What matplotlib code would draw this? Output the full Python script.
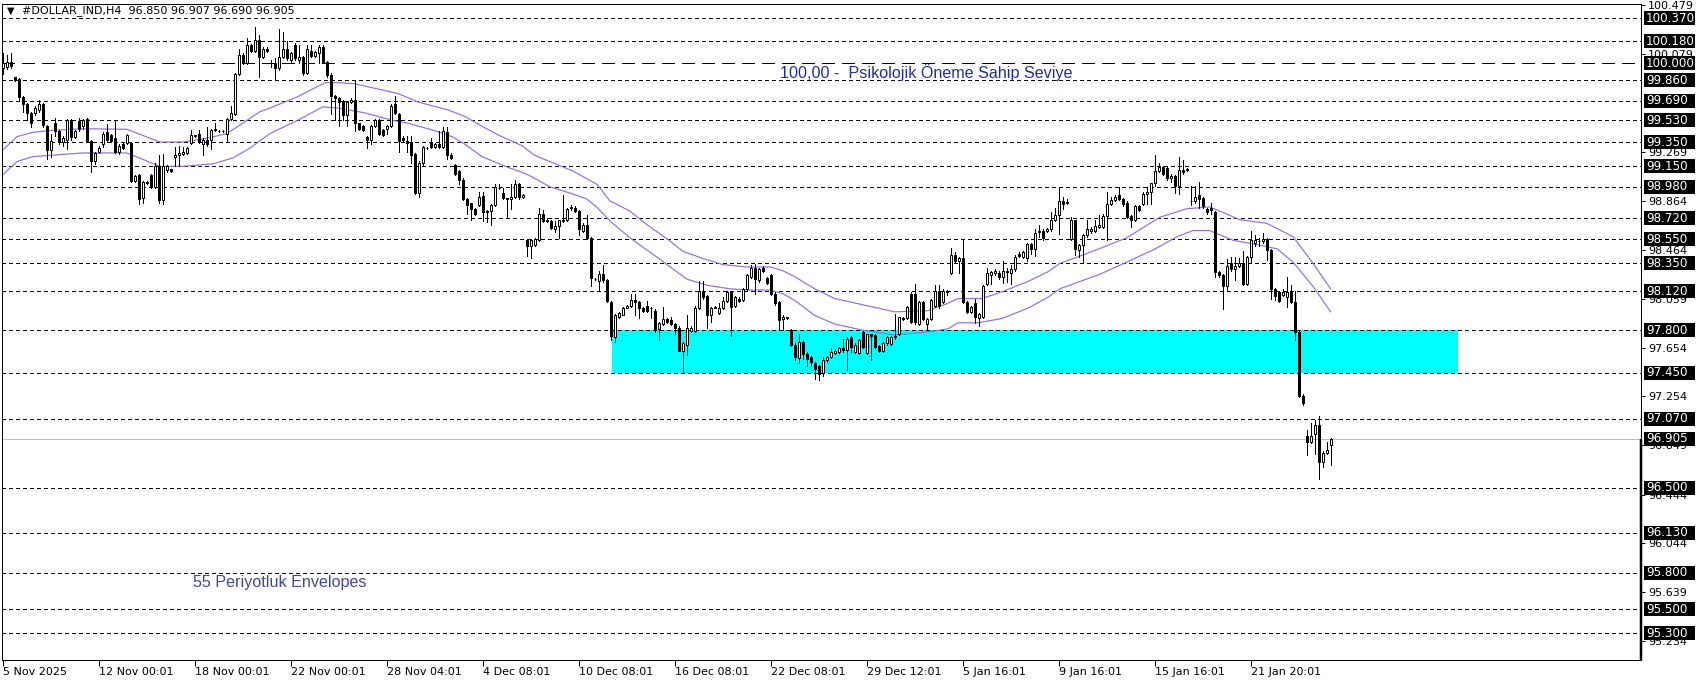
import matplotlib
matplotlib.use('Agg')
import matplotlib.pyplot as plt
import matplotlib.transforms as mtransforms
from matplotlib.patches import Rectangle
import numpy as np

W, H, DPI = 1699, 684, 100

# --- H4 bars (OHLC) ---
opens = [
    99.96, 99.97, 100.01, 99.885, 99.87, 99.72, 99.66, 99.59, 99.59, 99.61,
    99.665, 99.48, 99.285, 99.505, 99.44, 99.35, 99.37, 99.53, 99.395, 99.52,
    99.48, 99.54, 99.36, 99.19, 99.27, 99.33, 99.43, 99.41, 99.38, 99.27,
    99.33, 99.34, 99.34, 99.03, 99.08, 98.89, 99.02, 99.08, 98.98, 99.15,
    98.87, 99.12, 99.125, 99.23, 99.24, 99.25, 99.26, 99.34, 99.41, 99.42,
    99.33, 99.37, 99.37, 99.46, 99.44, 99.44, 99.42, 99.54, 99.58, 99.91,
    100.07, 100.00, 100.15, 100.10, 100.19, 100.05, 100.12, 100.005, 100.00, 99.96,
    100.05, 100.12, 100.03, 100.15, 100.03, 100.05, 99.92, 100.10, 100.06, 100.08,
    100.13, 100.01, 99.90, 99.73, 99.71, 99.69, 99.57, 99.68, 99.70, 99.505,
    99.48, 99.39, 99.37, 99.48, 99.53, 99.45, 99.455, 99.48, 99.66, 99.58,
    99.38, 99.355, 99.35, 99.25, 98.93, 99.175, 99.30, 99.35, 99.31, 99.33,
    99.31, 99.43, 99.24, 99.16, 99.11, 99.04, 98.88, 98.845, 98.80, 98.83,
    98.905, 98.785, 98.78, 98.83, 98.975, 98.93, 98.89, 98.88, 98.90, 99.00,
    98.90, 98.54, 98.49, 98.50, 98.54, 98.76, 98.71, 98.70, 98.63, 98.66,
    98.71, 98.705, 98.815, 98.81, 98.78, 98.62, 98.67, 98.56, 98.22, 98.205,
    98.26, 98.21, 98.035, 97.74, 97.91, 97.925, 97.985, 98.00, 98.05, 98.03,
    97.985, 98.00, 97.98, 97.96, 97.81, 97.85, 97.895, 97.88, 97.85, 97.82,
    97.63, 97.68, 97.79, 97.79, 97.98, 98.12, 98.08, 97.92, 97.985, 97.94,
    97.98, 98.04, 98.11, 98.00, 98.06, 98.05, 98.14, 98.24, 98.315, 98.21,
    98.315, 98.23, 98.25, 98.10, 98.03, 97.89, 97.905, 97.80, 97.68, 97.57,
    97.70, 97.60, 97.58, 97.53, 97.50, 97.45, 97.55, 97.58, 97.61, 97.62,
    97.655, 97.635, 97.745, 97.62, 97.61, 97.78, 97.61, 97.765, 97.76, 97.67,
    97.63, 97.69, 97.685, 97.74, 97.77, 97.90, 97.90, 98.10, 98.10, 97.85,
    98.03, 97.85, 97.89, 98.00, 98.12, 98.03, 98.11, 98.27, 98.42, 98.37,
    98.39, 98.03, 97.95, 98.02, 97.90, 97.91, 98.18, 98.25, 98.27, 98.27,
    98.24, 98.29, 98.27, 98.30, 98.43, 98.40, 98.39, 98.51, 98.47, 98.61,
    98.62, 98.62, 98.63, 98.71, 98.75, 98.86, 98.85, 98.55, 98.705, 98.46,
    98.50, 98.58, 98.62, 98.62, 98.65, 98.65, 98.74, 98.84, 98.87, 98.91,
    98.88, 98.85, 98.74, 98.71, 98.82, 98.84, 98.925, 98.935, 99.01, 99.11,
    99.145, 99.14, 99.05, 99.07, 98.985, 99.12, 99.12, 98.86, 98.86, 98.91,
    98.89, 98.80, 98.81, 98.77, 98.28, 98.25, 98.16, 98.35, 98.30, 98.33,
    98.35, 98.18, 98.40, 98.52, 98.53, 98.53, 98.55, 98.46, 98.14, 98.11,
    98.09, 98.07, 98.11, 98.03, 97.785, 97.26, 96.93, 96.88, 96.94, 97.015,
    96.71, 96.79, 96.85,
]
highs = [
    100.08, 100.07, 100.08, 99.89, 99.88, 99.73, 99.67, 99.60, 99.65, 99.70,
    99.67, 99.49, 99.42, 99.55, 99.45, 99.40, 99.54, 99.54, 99.45, 99.55,
    99.54, 99.55, 99.37, 99.27, 99.32, 99.43, 99.50, 99.42, 99.53, 99.33,
    99.34, 99.42, 99.35, 99.08, 99.09, 99.03, 99.03, 99.09, 99.18, 99.24,
    99.25, 99.16, 99.13, 99.31, 99.32, 99.31, 99.31, 99.45, 99.41, 99.45,
    99.38, 99.47, 99.46, 99.51, 99.45, 99.45, 99.55, 99.65, 99.92, 100.115,
    100.08, 100.21, 100.16, 100.30, 100.23, 100.13, 100.13, 100.03, 100.04, 100.28,
    100.26, 100.18, 100.09, 100.165, 100.15, 100.06, 100.15, 100.15, 100.10, 100.15,
    100.15, 100.02, 99.92, 99.74, 99.72, 99.70, 99.69, 99.71, 99.85, 99.51,
    99.49, 99.40, 99.49, 99.54, 99.54, 99.46, 99.49, 99.66, 99.73, 99.59,
    99.40, 99.40, 99.40, 99.26, 99.19, 99.32, 99.31, 99.38, 99.34, 99.44,
    99.47, 99.47, 99.26, 99.17, 99.12, 99.05, 98.89, 98.85, 98.81, 98.94,
    98.94, 98.79, 98.84, 99.00, 99.00, 98.97, 98.89, 99.00, 99.04, 99.01,
    98.92, 98.55, 98.55, 98.56, 98.81, 98.79, 98.72, 98.71, 98.70, 98.71,
    98.91, 98.81, 98.83, 98.82, 98.79, 98.68, 98.75, 98.57, 98.23, 98.29,
    98.34, 98.22, 98.04, 97.93, 97.95, 97.99, 98.01, 98.10, 98.10, 98.04,
    97.99, 98.04, 97.99, 97.97, 97.87, 97.99, 97.90, 97.91, 97.86, 97.83,
    97.70, 97.92, 97.83, 98.00, 98.205, 98.205, 98.09, 97.99, 98.00, 98.02,
    98.07, 98.12, 98.12, 98.08, 98.07, 98.15, 98.26, 98.34, 98.345, 98.31,
    98.33, 98.24, 98.26, 98.11, 98.04, 97.92, 97.91, 97.81, 97.69, 97.77,
    97.72, 97.62, 97.59, 97.54, 97.51, 97.58, 97.59, 97.65, 97.64, 97.66,
    97.73, 97.74, 97.75, 97.69, 97.73, 97.79, 97.77, 97.77, 97.77, 97.68,
    97.70, 97.75, 97.75, 97.93, 97.91, 97.91, 98.00, 98.11, 98.18, 98.04,
    98.04, 97.90, 98.06, 98.17, 98.17, 98.14, 98.13, 98.48, 98.44, 98.40,
    98.55, 98.04, 98.00, 98.06, 97.94, 98.17, 98.31, 98.29, 98.30, 98.29,
    98.37, 98.31, 98.34, 98.42, 98.44, 98.45, 98.52, 98.52, 98.63, 98.67,
    98.63, 98.64, 98.77, 98.81, 98.97, 98.90, 98.88, 98.73, 98.71, 98.51,
    98.59, 98.71, 98.65, 98.71, 98.75, 98.76, 98.94, 98.90, 98.91, 98.98,
    98.89, 98.86, 98.75, 98.83, 98.83, 98.94, 98.98, 99.015, 99.24, 99.18,
    99.15, 99.15, 99.09, 99.08, 99.23, 99.20, 99.135, 98.985, 98.985, 99.02,
    98.90, 98.81, 98.845, 98.78, 98.29, 98.26, 98.385, 98.40, 98.40, 98.39,
    98.45, 98.41, 98.62, 98.58, 98.56, 98.60, 98.56, 98.47, 98.15, 98.12,
    98.14, 98.24, 98.17, 98.12, 97.79, 97.27, 96.975, 97.035, 97.06, 97.09,
    96.80, 96.88, 96.907,
]
lows = [
    99.91, 99.95, 99.96, 99.85, 99.70, 99.60, 99.53, 99.47, 99.57, 99.60,
    99.47, 99.21, 99.23, 99.40, 99.33, 99.32, 99.29, 99.37, 99.38, 99.44,
    99.46, 99.35, 99.10, 99.17, 99.26, 99.31, 99.36, 99.35, 99.26, 99.25,
    99.29, 99.33, 99.02, 99.02, 98.84, 98.85, 99.00, 98.97, 98.97, 98.85,
    98.84, 99.10, 99.10, 99.15, 99.15, 99.24, 99.25, 99.33, 99.39, 99.34,
    99.24, 99.32, 99.29, 99.44, 99.43, 99.43, 99.35, 99.53, 99.57, 99.90,
    99.99, 99.99, 100.09, 100.09, 99.89, 100.04, 100.09, 99.97, 99.86, 99.945,
    100.04, 100.03, 100.01, 100.03, 100.00, 99.90, 99.91, 100.05, 100.05, 100.005,
    100.00, 99.89, 99.58, 99.53, 99.48, 99.53, 99.48, 99.67, 99.44, 99.45,
    99.44, 99.30, 99.33, 99.47, 99.41, 99.40, 99.42, 99.47, 99.58, 99.27,
    99.35, 99.27, 99.175, 98.92, 98.90, 99.15, 99.29, 99.30, 99.30, 99.30,
    99.30, 99.21, 99.21, 99.08, 99.00, 98.87, 98.76, 98.71, 98.75, 98.82,
    98.70, 98.69, 98.67, 98.82, 98.96, 98.88, 98.72, 98.80, 98.89, 98.88,
    98.89, 98.41, 98.39, 98.49, 98.53, 98.69, 98.69, 98.63, 98.61, 98.56,
    98.69, 98.70, 98.79, 98.77, 98.58, 98.61, 98.55, 98.16, 98.21, 98.12,
    98.20, 98.03, 97.72, 97.70, 97.90, 97.92, 97.98, 97.99, 97.92, 97.90,
    97.95, 97.95, 97.90, 97.78, 97.72, 97.84, 97.86, 97.84, 97.77, 97.63,
    97.45, 97.595, 97.78, 97.78, 97.97, 98.06, 97.82, 97.87, 97.98, 97.93,
    97.97, 98.03, 97.75, 97.99, 98.03, 98.04, 98.13, 98.23, 98.095, 98.20,
    98.28, 98.18, 98.09, 98.01, 97.81, 97.80, 97.89, 97.67, 97.55, 97.53,
    97.56, 97.50, 97.50, 97.40, 97.39, 97.42, 97.54, 97.57, 97.60, 97.61,
    97.62, 97.47, 97.62, 97.61, 97.60, 97.65, 97.60, 97.55, 97.65, 97.62,
    97.62, 97.68, 97.68, 97.73, 97.76, 97.88, 97.89, 97.86, 97.85, 97.84,
    97.88, 97.81, 97.88, 97.99, 97.98, 98.02, 98.09, 98.26, 98.36, 98.27,
    98.02, 97.94, 97.94, 97.86, 97.83, 97.90, 98.17, 98.18, 98.25, 98.22,
    98.19, 98.20, 98.18, 98.29, 98.40, 98.39, 98.37, 98.43, 98.41, 98.57,
    98.54, 98.61, 98.62, 98.70, 98.59, 98.80, 98.84, 98.54, 98.42, 98.40,
    98.36, 98.57, 98.60, 98.61, 98.64, 98.64, 98.54, 98.83, 98.86, 98.87,
    98.82, 98.72, 98.65, 98.70, 98.78, 98.83, 98.84, 98.84, 98.985, 99.10,
    99.08, 99.04, 99.02, 98.93, 98.92, 99.09, 99.11, 98.83, 98.85, 98.81,
    98.81, 98.76, 98.755, 98.24, 98.24, 97.97, 98.13, 98.29, 98.21, 98.32,
    98.17, 98.17, 98.36, 98.49, 98.49, 98.52, 98.38, 98.06, 98.05, 98.03,
    98.08, 97.99, 98.02, 97.72, 97.25, 97.18, 96.77, 96.87, 96.78, 96.57,
    96.67, 96.78, 96.69,
]
closes = [
    100.00, 100.01, 99.98, 99.86, 99.725, 99.66, 99.59, 99.505, 99.63, 99.665,
    99.49, 99.285, 99.36, 99.44, 99.35, 99.38, 99.53, 99.39, 99.44, 99.46,
    99.53, 99.36, 99.19, 99.26, 99.30, 99.42, 99.37, 99.36, 99.27, 99.32,
    99.30, 99.41, 99.03, 99.07, 98.88, 99.02, 99.01, 98.98, 99.15, 98.87,
    99.15, 99.15, 99.11, 99.24, 99.26, 99.27, 99.30, 99.41, 99.40, 99.35,
    99.37, 99.33, 99.45, 99.45, 99.445, 99.44, 99.54, 99.59, 99.91, 100.07,
    100.00, 100.15, 100.10, 100.19, 100.055, 100.12, 100.10, 100.00, 99.96, 100.05,
    100.12, 100.04, 100.08, 100.04, 100.05, 99.92, 100.115, 100.06, 100.09, 100.13,
    100.01, 99.90, 99.73, 99.71, 99.68, 99.57, 99.68, 99.70, 99.51, 99.46,
    99.45, 99.37, 99.48, 99.53, 99.42, 99.41, 99.48, 99.65, 99.59, 99.36,
    99.37, 99.345, 99.24, 98.93, 99.18, 99.31, 99.30, 99.31, 99.33, 99.31,
    99.44, 99.24, 99.22, 99.09, 99.04, 98.88, 98.83, 98.80, 98.76, 98.90,
    98.77, 98.77, 98.83, 98.98, 98.97, 98.89, 98.88, 98.90, 99.00, 98.90,
    98.91, 98.49, 98.54, 98.55, 98.76, 98.70, 98.70, 98.64, 98.66, 98.705,
    98.70, 98.80, 98.81, 98.78, 98.63, 98.67, 98.56, 98.23, 98.22, 98.26,
    98.21, 98.04, 97.75, 97.925, 97.94, 97.985, 98.00, 98.05, 98.03, 97.985,
    97.96, 97.96, 97.985, 97.81, 97.86, 97.895, 97.87, 97.85, 97.815, 97.63,
    97.69, 97.815, 97.82, 97.985, 98.12, 98.07, 97.92, 97.985, 97.99, 97.985,
    98.04, 98.11, 97.99, 98.07, 98.04, 98.14, 98.25, 98.315, 98.22, 98.30,
    98.29, 98.19, 98.095, 98.02, 97.88, 97.91, 97.90, 97.68, 97.58, 97.70,
    97.60, 97.56, 97.54, 97.48, 97.44, 97.55, 97.58, 97.62, 97.63, 97.65,
    97.635, 97.73, 97.66, 97.675, 97.715, 97.66, 97.765, 97.75, 97.66, 97.63,
    97.69, 97.74, 97.74, 97.755, 97.905, 97.89, 97.99, 97.87, 97.87, 98.03,
    97.89, 97.89, 98.05, 98.12, 98.00, 98.12, 98.12, 98.42, 98.37, 98.39,
    98.03, 97.95, 97.99, 97.91, 97.935, 98.16, 98.27, 98.28, 98.29, 98.24,
    98.29, 98.28, 98.30, 98.40, 98.41, 98.44, 98.51, 98.47, 98.60, 98.62,
    98.56, 98.63, 98.71, 98.75, 98.86, 98.84, 98.855, 98.705, 98.47, 98.50,
    98.58, 98.63, 98.63, 98.66, 98.67, 98.74, 98.84, 98.87, 98.90, 98.88,
    98.84, 98.73, 98.71, 98.82, 98.79, 98.925, 98.94, 99.01, 99.11, 99.145,
    99.09, 99.05, 99.07, 98.985, 99.12, 99.10, 99.12, 98.86, 98.90, 98.88,
    98.82, 98.77, 98.79, 98.28, 98.25, 98.16, 98.33, 98.30, 98.33, 98.35,
    98.18, 98.40, 98.54, 98.54, 98.535, 98.55, 98.46, 98.14, 98.08, 98.04,
    98.11, 98.11, 98.03, 97.785, 97.26, 97.20, 96.88, 96.93, 97.02, 96.71,
    96.79, 96.815, 96.905,
]

# --- 55-period envelopes (bar position, price) ---
env_upper_bar = [0, 3.6, 7.6, 11.8, 20, 31, 39.3, 45, 51, 56, 59.3, 64.3, 66.8, 73.8,
                 80.6, 83.8, 88, 98.8, 103.8, 111.3, 115.6, 119.8, 123.8, 129.8, 133,
                 142.6, 148.6, 151.8, 156.8, 161, 166.8, 170, 175, 180, 186, 191.8, 195,
                 198, 203, 208, 214.8, 223, 231.3, 236.3, 238.8, 244.8, 249.8, 256.3,
                 261.3, 264.3, 271, 281, 289.3, 296, 301.8, 309.3, 316, 322.6, 327.6, 332]
env_upper = [99.285, 99.395, 99.43, 99.445, 99.46, 99.455, 99.35, 99.35, 99.38, 99.42,
             99.49, 99.60, 99.63, 99.725, 99.84, 99.84, 99.83, 99.75, 99.68, 99.615,
             99.56, 99.48, 99.41, 99.32, 99.24, 99.11, 99.00, 98.865, 98.78, 98.67,
             98.535, 98.45, 98.39, 98.34, 98.32, 98.32, 98.29, 98.24, 98.14, 98.06,
             98.01, 97.95, 97.96, 98.02, 98.06, 98.06, 98.115, 98.20, 98.28, 98.35,
             98.43, 98.56, 98.73, 98.80, 98.815, 98.71, 98.68, 98.57, 98.35, 98.14]
env_lower_bar = [0, 3.6, 7.6, 11.8, 20, 31, 39.3, 45, 52.6, 57.6, 61.8, 66.8, 73.8, 80,
                 83.8, 90.6, 97.3, 101.3, 107.3, 112.3, 115.6, 119.8, 125.6, 130.6, 132.5,
                 136.8, 141.8, 146, 148.6, 151.8, 156.8, 163.6, 171, 176, 181.8, 186.8,
                 191.8, 195, 198, 203, 208, 214.8, 223, 231.3, 236.3, 238.8, 243.8, 249.8,
                 256.3, 261.3, 264.3, 269.3, 274.3, 281, 287.6, 293.6, 297.6, 301.8, 307.6,
                 314.3, 318.6, 322.6, 327.6, 332]
env_lower = [99.08, 99.19, 99.23, 99.24, 99.26, 99.26, 99.15, 99.15, 99.17, 99.22,
             99.30, 99.42, 99.53, 99.64, 99.63, 99.59, 99.53, 99.505, 99.45, 99.395,
             99.33, 99.23, 99.15, 99.09, 99.06, 98.98, 98.93, 98.88, 98.81, 98.70,
             98.56, 98.40, 98.22, 98.17, 98.14, 98.13, 98.13, 98.10, 98.045, 97.92,
             97.85, 97.80, 97.76, 97.785, 97.81, 97.86, 97.86, 97.895, 97.98, 98.07,
             98.14, 98.20, 98.26, 98.36, 98.46, 98.57, 98.62, 98.62, 98.54, 98.50,
             98.47, 98.36, 98.16, 97.95]

# --- levels and labels ---
levels = [100.37, 100.18, 99.86, 99.69, 99.53, 99.35, 99.15, 98.98, 98.72, 98.55,
          98.35, 98.12, 97.80, 97.45, 97.07, 96.50, 96.13, 95.80, 95.50, 95.30]
psych_level = 100.00
last_price = 96.905
scale_ticks = [100.479, 100.079, 99.269, 98.864, 98.464, 98.059, 97.654, 97.254,
               96.849, 96.444, 96.044, 95.639, 95.234]
zone_low, zone_high = 97.45, 97.80
zone_start, zone_end = 152.3, 363.8

tick_bars = [0, 24, 48, 72, 96, 120, 144, 168, 192, 216, 240, 264, 288, 312]
tick_labels = ["5 Nov 2025", "12 Nov 00:01", "18 Nov 00:01", "22 Nov 00:01",
               "28 Nov 04:01", "4 Dec 08:01", "10 Dec 08:01", "16 Dec 08:01",
               "22 Dec 08:01", "29 Dec 12:01", "5 Jan 16:01", "9 Jan 16:01",
               "15 Jan 16:01", "21 Jan 20:01"]

header = "#DOLLAR_IND,H4  96.850 96.907 96.690 96.905"
note_psych = "100,00 -  Psikolojik Öneme Sahip Seviye"
note_env = "55 Periyotluk Envelopes"

PX = 0.72  # one pixel in points at 100 dpi

fig = plt.figure(figsize=(W / DPI, H / DPI), dpi=DPI)
ax = fig.add_axes([2 / W, 1 - 660 / H, 1639 / W, 656.5 / H])
ax.set_xlim(-0.2, 409.6)
ax.set_ylim(95.080, 100.492)

# support zone
ax.add_patch(Rectangle((zone_start, zone_low), zone_end - zone_start, zone_high - zone_low,
                       facecolor='#00FFFF', edgecolor='none', zorder=1))

# horizontal levels
for lv in levels:
    ax.axhline(lv, color='black', lw=PX, dashes=(3, 3), zorder=2, antialiased=False)
ax.axhline(psych_level, color='black', lw=PX, dashes=(13, 7), zorder=2, antialiased=False)
ax.axhline(last_price, color='#C0C0C0', lw=PX, zorder=2, antialiased=False)

# envelopes
ax.plot(env_upper_bar, env_upper, color='#9370DB', lw=PX * 1.2, zorder=2.5)
ax.plot(env_lower_bar, env_lower, color='#9370DB', lw=PX * 1.2, zorder=2.5)

# candles
o = np.array(opens); hi = np.array(highs); lo = np.array(lows); c = np.array(closes)
x = np.arange(len(c))
up = c >= o
ax.vlines(x, lo, hi, color='black', lw=PX, zorder=3, antialiased=False)
body_lo = np.minimum(o, c)
body_h = np.maximum(np.abs(c - o), 0.004)
ax.bar(x[up], body_h[up], bottom=body_lo[up], width=0.5, color='white',
       edgecolor='black', linewidth=PX, zorder=4)
ax.bar(x[~up], body_h[~up], bottom=body_lo[~up], width=0.5, color='black',
       edgecolor='black', linewidth=PX, zorder=4)

# notes on the chart
ax.text(194.3, 99.92, note_psych, family='Liberation Sans', fontsize=11.6,
        color='#1f2f9a', va='center', ha='left', zorder=5)
ax.text(47.6, 95.72, note_env, family='Liberation Sans', fontsize=11.6,
        color='#45459c', va='center', ha='left', zorder=5)

# header
fig.text(7 / W, 1 - 11 / H, "▼", fontsize=7, va='center', ha='left')
fig.text(22 / W, 1 - 11 / H, header, fontsize=8, va='center', ha='left')

# axes styling
for sp in ax.spines.values():
    sp.set_linewidth(PX)
    sp.set_color('black')
ax.yaxis.tick_right()
ax.set_yticks(scale_ticks)
ax.set_yticklabels([f"{v:.3f}" for v in scale_ticks])
ax.tick_params(axis='y', length=3, width=PX, pad=2, labelsize=8)
ax.set_xticks(tick_bars)
ax.set_xticklabels(tick_labels)
for lab in ax.get_xticklabels():
    lab.set_horizontalalignment('left')
ax.tick_params(axis='x', length=4, width=PX, pad=1, labelsize=8)

# thick right edge below current price
trans = mtransforms.blended_transform_factory(ax.transAxes, ax.transData)
ax.plot([1.0, 1.0], [95.080, last_price], transform=trans, color='black',
        lw=PX * 2.5, clip_on=False, zorder=6, solid_capstyle='butt')

# price tags on the right scale
tag_w = 51 / 1639
tag_h = 14 / 121.3
for lv in levels + [psych_level, last_price]:
    ax.add_patch(Rectangle((1.0018, lv - tag_h / 2), tag_w, tag_h, transform=trans,
                           facecolor='black', edgecolor='none', clip_on=False, zorder=9))
    ax.text(1.0030, lv, f"{lv:.3f}", transform=trans, color='white', fontsize=8.6,
            va='center', ha='left', clip_on=False, zorder=10)

fig.savefig('out.png', dpi=DPI, facecolor='white')
